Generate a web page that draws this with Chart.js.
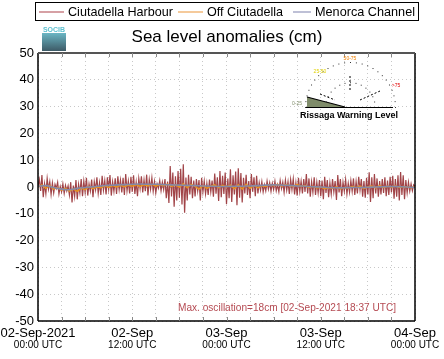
<!DOCTYPE html>
<html><head><meta charset="utf-8">
<script src="https://cdn.jsdelivr.net/npm/chart.js@4.4.1/dist/chart.umd.min.js"></script>
<style>html,body{margin:0;padding:0;background:#fff}#wrap{width:444px;height:359px}</style>
</head><body><div id="wrap"><canvas id="c" width="444" height="359"></canvas></div>
<script>
// ---- data (hours since 02-Sep-2021 00:00 UTC) ----
const seriesNames = ['Ciutadella Harbour', 'Off Ciutadella', 'Menorca Channel'];
const xTickLabels = [['02-Sep-2021','00:00 UTC'],['02-Sep','12:00 UTC'],['03-Sep','00:00 UTC'],['03-Sep','12:00 UTC'],['04-Sep','00:00 UTC']];
const yTicks = [50,40,30,20,10,0,-10,-20,-30,-40,-50];
const harbourStepHours = 1 / 6;
const harbour = [
  0.3, 2.8, -1.5, 4.5, -3.8, 1.2, -2.5, 3.2, -0.8, 2.0, -2.8, 1.5,
  -2.2, 1.0, -0.5, 1.8, -2.6, 0.2, -1.8, 1.2, -2.4, 0.6, -1.5, 0.4,
  -3.0, 1.8, -5.8, 0.5, -3.5, 2.6, -4.6, 1.0, -2.2, 3.0, -3.4, 2.2,
  -2.0, 3.4, -3.2, 1.2, -1.5, 2.8, -3.8, 2.0, -1.0, 3.6, -2.4, 1.6,
  -3.0, 4.2, -1.2, 2.4, -2.8, 3.6, -0.8, 4.5, -3.2, 2.0, -1.6, 3.2,
  -2.6, 4.0, -1.0, 2.6, -2.0, 3.4, -3.0, 4.8, -1.4, 2.2, -2.4, 3.8,
  -1.8, 4.4, -2.6, 1.8, -3.4, 3.2, -0.6, 4.0, -2.0, 2.6, -1.6, 4.6,
  -3.2, 2.8, -0.8, 3.4, -1.6, 2.0, -2.2, 1.2, -0.4, 2.4, -1.4, 1.8,
  -1.0, 3.0, -4.2, 2.0, -6.0, 7.8, -3.5, 5.4, -7.4, 4.0, -5.0, 6.0,
  -4.0, 6.8, -6.5, 8.5, -9.6, 3.5, -5.0, 4.6, -2.8, 3.8, -4.2, 2.4,
  -3.5, 3.0, -1.5, 2.6, -5.0, 3.4, -1.8, 2.2, -2.6, 1.4, -3.0, 2.8,
  -1.8, 2.4, -3.6, 5.0, -2.5, 3.6, -5.2, 6.0, -3.8, 4.2, -2.6, 5.4,
  -6.4, 3.2, -4.2, 6.6, -5.6, 4.4, -2.8, 5.8, -6.8, 7.0, -4.0, 5.2,
  -5.8, 3.4, -2.4, 4.6, -3.0, 2.2, -4.2, 4.8, -1.8, 3.6, -3.4, 4.2,
  -2.4, 1.6, -1.2, 2.0, -1.8, 0.8, -1.4, 2.2, -0.8, 1.6, -1.6, 1.4,
  -1.0, 2.2, -1.4, 0.8, -1.8, 2.4, -0.6, 1.8, -2.0, 2.6, -1.2, 2.0,
  -2.6, 2.8, -1.0, 3.0, -2.8, 1.6, -3.2, 3.4, -1.6, 2.2, -2.4, 3.0,
  -1.8, 4.8, -2.4, 3.2, -3.6, 2.0, -2.0, 3.6, -3.0, 1.8, -2.2, 2.6,
  -3.4, 2.4, -4.6, 3.8, -2.2, 2.6, -3.8, 1.6, -2.6, 3.0, -1.8, 2.2,
  -4.8, 4.5, -2.0, 3.0, -3.4, 1.8, -1.6, 2.8, -2.6, 1.4, -2.0, 2.4,
  -1.6, 3.2, -3.0, 2.0, -2.4, 3.8, -1.2, 3.0, -3.6, 2.2, -4.0, 3.4,
  -2.8, 5.5, -5.6, 3.6, -4.2, 4.8, -2.4, 3.2, -3.6, 2.2, -2.8, 3.0,
  -2.2, 3.6, -3.4, 2.4, -3.0, 3.8, -2.0, 4.2, -4.4, 3.0, -3.6, 4.4,
  -5.0, 5.6, -3.0, 4.4, -4.6, 2.6, -2.2, 1.8, -1.6, 1.2, -1.4, 0.8, 0.2
];
const offStepHours = 0.5;
const offCiutadella = [
  0.0,0.8,-0.5,0.6,-0.8,-0.2,-1.2,-0.5,-1.5,-0.8,-1.6,-0.4,-1.0,0.2,-0.6,0.0,
  -0.3,0.4,-0.2,0.5,0.0,0.6,0.1,0.7,0.3,0.9,0.2,0.8,0.4,1.0,0.3,0.9,
  0.5,1.1,0.2,0.8,0.0,1.2,-0.3,1.0,0.2,-0.8,0.5,-0.5,0.3,0.8,-0.2,0.6,
  0.0,0.7,-0.6,0.8,-0.8,1.0,-0.5,0.6,-0.3,0.5,0.2,0.9,0.5,1.0,0.4,0.8,
  0.6,0.3,0.9,0.2,0.5,-0.2,0.3,-0.4,0.0,-0.6,-0.2,-0.5,0.1,-0.7,-0.2,-0.4,
  0.2,-0.3,0.3,-0.5,0.0,0.4,-0.3,0.5,-0.2,0.3,0.0,0.4,-0.2,0.2,0.0,-0.3,0.1
];
const channelStepHours = 1;
const menorcaChannel = [
  0.3,0.5,-0.2,-0.8,-1.0,-0.5,-0.2,0.1,0.4,0.6,0.8,0.9,1.0,1.1,1.0,1.0,
  0.9,0.8,0.7,0.6,0.5,0.4,0.3,0.2,0.2,0.3,0.3,0.4,0.5,0.7,0.8,0.7,
  0.6,0.4,0.3,0.1,0.0,-0.2,-0.3,-0.3,-0.2,-0.2,-0.1,0.0,0.1,0.2,0.1,0.0,-0.2
];
const annotationText = 'Max. oscillation=18cm [02-Sep-2021 18:37 UTC]';
const titleText = 'Sea level anomalies (cm)';

const toPts = (arr, step) => arr.map((v, i) => ({x: i * step, y: v}));
const FONT = '"Liberation Sans", Arial, sans-serif';

const deco = {
  id: 'deco',
  afterDraw(chart) {
    const ctx = chart.ctx, a = chart.chartArea, xs = chart.scales.x;
    ctx.save();
    // frame
    ctx.strokeStyle = '#000'; ctx.lineWidth = 1.5;
    ctx.beginPath(); ctx.moveTo(a.left, a.top); ctx.lineTo(a.left, a.bottom);
    ctx.moveTo(a.right, a.top); ctx.lineTo(a.right, a.bottom); ctx.stroke();
    ctx.strokeStyle = '#555'; ctx.lineWidth = 2;
    ctx.beginPath(); ctx.moveTo(a.left, a.top); ctx.lineTo(a.right, a.top); ctx.stroke();
    ctx.strokeStyle = '#000'; ctx.lineWidth = 1.5;
    ctx.beginPath(); ctx.moveTo(a.left, a.bottom); ctx.lineTo(a.right, a.bottom); ctx.stroke();
    // minor ticks top/bottom
    ctx.strokeStyle = '#888'; ctx.lineWidth = 1;
    for (let h = 3; h < 48; h += 3) {
      const px = Math.round(xs.getPixelForValue(h)) + 0.5;
      ctx.beginPath(); ctx.moveTo(px, a.top); ctx.lineTo(px, a.top + 4);
      ctx.moveTo(px, a.bottom); ctx.lineTo(px, a.bottom - 4); ctx.stroke();
    }
    // x labels
    ctx.fillStyle = '#000'; ctx.textAlign = 'center'; ctx.textBaseline = 'middle';
    xTickLabels.forEach((lab, i) => {
      const px = xs.getPixelForValue(i * 12);
      ctx.font = '13px ' + FONT; ctx.fillText(lab[0], px, a.bottom + 12);
      ctx.font = '10px ' + FONT; ctx.fillText(lab[1], px, a.bottom + 24);
    });
    // annotation
    ctx.fillStyle = '#b54a52'; ctx.font = '11px ' + FONT; ctx.textAlign = 'left'; ctx.textBaseline = 'middle';
    ctx.fillText(annotationText, 178, a.bottom - 13, 218);
    // title
    ctx.fillStyle = '#000'; ctx.font = '17px ' + FONT; ctx.textAlign = 'center';
    ctx.fillText(titleText, 227, 37);
    // legend
    ctx.strokeStyle = '#000'; ctx.lineWidth = 1;
    ctx.strokeRect(35.5, 2.5, 383, 18);
    const legItems = [
      {x: 39, c: '#c98086', t: seriesNames[0], tx: 68, w: 105},
      {x: 178, c: '#f2b97a', t: seriesNames[1], tx: 207, w: 76},
      {x: 293, c: '#a9abc9', t: seriesNames[2], tx: 315, w: 100}
    ];
    ctx.font = '13px ' + FONT; ctx.textAlign = 'left'; ctx.textBaseline = 'middle';
    legItems.forEach(it => {
      ctx.strokeStyle = it.c; ctx.lineWidth = 1.5;
      ctx.beginPath(); ctx.moveTo(it.x, 12); ctx.lineTo(it.tx - 4, 12); ctx.stroke();
      ctx.fillStyle = '#000'; ctx.fillText(it.t, it.tx, 12.5, it.w);
    });
    // SOCIB logo
    const g = ctx.createLinearGradient(0, 33, 0, 51);
    g.addColorStop(0, '#6ab6c4'); g.addColorStop(1, '#3d5a66');
    ctx.fillStyle = g; ctx.fillRect(42, 33, 24, 18);
    ctx.fillStyle = '#5cc0d0'; ctx.font = 'bold 7px ' + FONT; ctx.textAlign = 'center'; ctx.textBaseline = 'alphabetic';
    ctx.fillText('SOCIB', 54, 32);
    // Rissaga gauge inset
    const cx = 350, cy = 107, r = 45;
    ctx.fillStyle = '#333';
    for (let k = 0; k <= 24; k++) {
      const ang = Math.PI + k * Math.PI / 24;
      ctx.fillRect(cx + r * Math.cos(ang), cy + r * Math.sin(ang), 1, 1);
    }
    for (let k = 0; k <= 14; k++) {
      const ang = Math.PI + k * Math.PI / 14;
      ctx.fillRect(cx + 0.55 * r * Math.cos(ang), cy + 0.55 * r * Math.sin(ang), 1, 1);
    }
    ctx.fillStyle = '#7f8c6a';
    ctx.beginPath(); ctx.moveTo(307, 107); ctx.lineTo(307, 97); ctx.lineTo(345, 107); ctx.closePath(); ctx.fill();
    ctx.strokeStyle = '#000'; ctx.lineWidth = 1.2;
    ctx.beginPath(); ctx.moveTo(307, 97); ctx.lineTo(345, 107); ctx.stroke();
    ctx.beginPath(); ctx.moveTo(306, 107.5); ctx.lineTo(393, 107.5); ctx.stroke();
    ctx.lineWidth = 1; ctx.setLineDash([2, 2]);
    ctx.beginPath(); ctx.moveTo(320, 94); ctx.lineTo(335, 100); ctx.stroke();
    ctx.beginPath(); ctx.moveTo(360, 100); ctx.lineTo(380, 91); ctx.stroke();
    ctx.beginPath(); ctx.moveTo(350, 76); ctx.lineTo(350, 90); ctx.stroke();
    ctx.setLineDash([]);
    ctx.font = '5px ' + FONT; ctx.textAlign = 'center';
    ctx.fillStyle = '#7f8c6a'; ctx.fillText('0-25', 297, 105);
    ctx.fillStyle = '#e0d000'; ctx.fillText('25-50', 320, 73);
    ctx.fillStyle = '#f08000'; ctx.fillText('50-75', 350, 60);
    ctx.fillStyle = '#e00000'; ctx.fillText('>75', 396, 87);
    ctx.fillStyle = '#000'; ctx.font = 'bold 9px ' + FONT;
    ctx.fillText('Rissaga Warning Level', 349, 118);
    // y labels
    ctx.font = '13px ' + FONT; ctx.textAlign = 'right'; ctx.textBaseline = 'middle'; ctx.fillStyle = '#000';
    yTicks.forEach(v => ctx.fillText(String(v), 34, chart.scales.y.getPixelForValue(v)));
    ctx.restore();
  }
};

new Chart(document.getElementById('c'), {
  type: 'line',
  data: {
    datasets: [
      {label: seriesNames[2], data: toPts(menorcaChannel, channelStepHours), borderColor: '#8489a8', borderWidth: 1.6, pointRadius: 0, tension: 0.3, order: 1},
      {label: seriesNames[1], data: toPts(offCiutadella, offStepHours), borderColor: '#e8901e', borderWidth: 1.5, pointRadius: 0, order: 2},
      {label: seriesNames[0], data: toPts(harbour, harbourStepHours), borderColor: 'rgba(145,35,40,0.85)', borderWidth: 1.2, pointRadius: 0, order: 3}
    ]
  },
  options: {
    responsive: false, animation: false,
    layout: {padding: {left: 0, right: 29, top: 53, bottom: 0}},
    plugins: {legend: {display: false}, tooltip: {enabled: false}, title: {display: false}},
    scales: {
      x: {type: 'linear', min: 0, max: 48,
        ticks: {stepSize: 3, display: false},
        grid: {color: '#c8c8c8', drawTicks: false, lineWidth: 1},
        border: {display: false, dash: [1, 3]},
        afterFit: s => { s.height = 38; }},
      y: {min: -50, max: 50,
        ticks: {stepSize: 10, display: false},
        grid: {color: '#c8c8c8', drawTicks: false, lineWidth: 1},
        border: {display: false, dash: [1, 3]},
        afterFit: s => { s.width = 38; }}
    }
  },
  plugins: [deco]
});
</script></body></html>
